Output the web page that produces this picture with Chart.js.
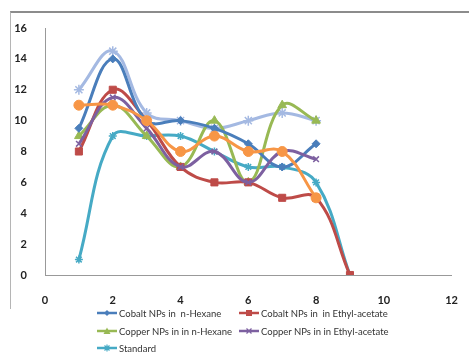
<!DOCTYPE html>
<html><head><meta charset="utf-8">
<script src="https://cdn.jsdelivr.net/npm/chart.js@4/dist/chart.umd.min.js"></script>
<style>
html,body{margin:0;padding:0;background:#fff;}
#wrap{position:relative;width:469px;height:352px;overflow:hidden;}
#frame{position:absolute;left:10px;top:11px;width:470px;height:298px;border-top:2px solid #8c8c8c;border-left:1px solid #b5b5b5;box-sizing:border-box;}
canvas{position:absolute;left:0;top:0;}
#legend{position:absolute;left:0;top:0;font-family:Lato,'Liberation Sans',sans-serif;font-size:9.5px;color:#333;}
.li{position:absolute;white-space:pre;display:flex;align-items:center;height:12px;}
.li svg{margin-right:2px;}
</style></head>
<body><div id="wrap"><div id="frame"></div><canvas id="c" width="469" height="352"></canvas><div id="legend"></div></div>
<script>
const xValues = [1,2,3,4,5,6,7,8,9];
const seriesNames = ["Cobalt NPs in  n-Hexane","Cobalt NPs in  in Ethyl-acetate","Copper NPs in in n-Hexane","Copper NPs in in Ethyl-acetate","Standard","Series6","Series7"];
const cobaltHexane = [9.5,14,10,10,9.5,8.5,7,8.5];
const cobaltEthyl = [8,12,10,7,6,6,5,5,0];
const copperHexane = [9,11,9,7,10,6,11,10];
const copperEthyl = [8.5,11.5,9.5,7,8,6,8,7.5];
const standard = [1,9,9,9,8,7,7,6,0];
const series6 = [11,11,10,8,9,8,8,5];
const series7 = [12,14.5,10.5,10,9.5,10,10.5,10];
const xTicks = [0,2,4,6,8,10,12];
const yTicks = [0,2,4,6,8,10,12,14,16];

const colors = ['#4a7ebb','#be4b48','#98b954','#7d60a0','#46aac5','#f79646','#a4b9e2'];
const styles = ['rectRot','rect','triangle','crossRot','star','circle','star'];
const radii = [4,5,5,4,4,5,5];
const allData = [cobaltHexane,cobaltEthyl,copperHexane,copperEthyl,standard,series6,series7];
const drawOrder = [3,4,5,2,6,1,7];

const datasets = allData.map((d,i)=>({
  label: seriesNames[i],
  data: d.map((v,j)=>({x:xValues[j],y:v})),
  borderColor: colors[i],
  backgroundColor: colors[i],
  pointStyle: styles[i],
  pointRadius: radii[i],
  pointBorderWidth: (styles[i]==='star'||styles[i]==='crossRot')?1.5:1,
  borderWidth: 3,
  tension: 0.4,
  fill: false,
  order: drawOrder[i]
}));

const font = {family:"Lato, 'Liberation Sans', sans-serif", size:11, weight:'bold'};
new Chart(document.getElementById('c'), {
  type:'line',
  data:{datasets},
  options:{
    responsive:false, animation:false,
    layout:{padding:{left:0,top:28,right:17,bottom:37}},
    plugins:{legend:{display:false},tooltip:{enabled:false}},
    scales:{
      x:{type:'linear',min:0,max:12,
        afterBuildTicks:s=>{s.ticks=xTicks.map(v=>({value:v}));},
        afterFit:s=>{s.height=40;},
        grid:{display:false},border:{display:true,color:'#999',width:1},
        ticks:{color:'#222',font,padding:11,maxRotation:0}},
      y:{min:0,max:16,
        afterBuildTicks:s=>{s.ticks=yTicks.map(v=>({value:v}));},
        afterFit:s=>{s.width=45;},
        grid:{display:false},border:{display:true,color:'#999',width:1},
        ticks:{color:'#222',font,padding:10}}
    }
  }
});

// HTML legend
const legendPos = [[97,307],[239,307],[97,325],[239,325],[97,342]];
const lg = document.getElementById('legend');
function marker(i){
  const c=colors[i];
  switch(styles[i]){
    case 'rectRot': return `<polygon points="10,2 13,5 10,8 7,5" fill="${c}"/>`;
    case 'rect': return `<rect x="7" y="2" width="6" height="6" fill="${c}"/>`;
    case 'triangle': return `<polygon points="10,1.5 13.5,8 6.5,8" fill="${c}"/>`;
    case 'crossRot': return `<path d="M7.5 2.5 L12.5 7.5 M12.5 2.5 L7.5 7.5" stroke="${c}" stroke-width="1.3"/>`;
    default: return `<path d="M10 1.5 V8.5 M6.5 5 H13.5 M7.5 2.5 L12.5 7.5 M12.5 2.5 L7.5 7.5" stroke="${c}" stroke-width="1.2"/>`;
  }
}
for(let i=0;i<5;i++){
  const d=document.createElement('div');
  d.className='li';
  d.style.left=legendPos[i][0]+'px'; d.style.top=legendPos[i][1]+'px';
  d.innerHTML=`<svg width="20" height="10"><line x1="0" y1="5" x2="20" y2="5" stroke="${colors[i]}" stroke-width="2.5"/>${marker(i)}</svg><span>${seriesNames[i]}</span>`;
  lg.appendChild(d);
}
</script></body></html>
